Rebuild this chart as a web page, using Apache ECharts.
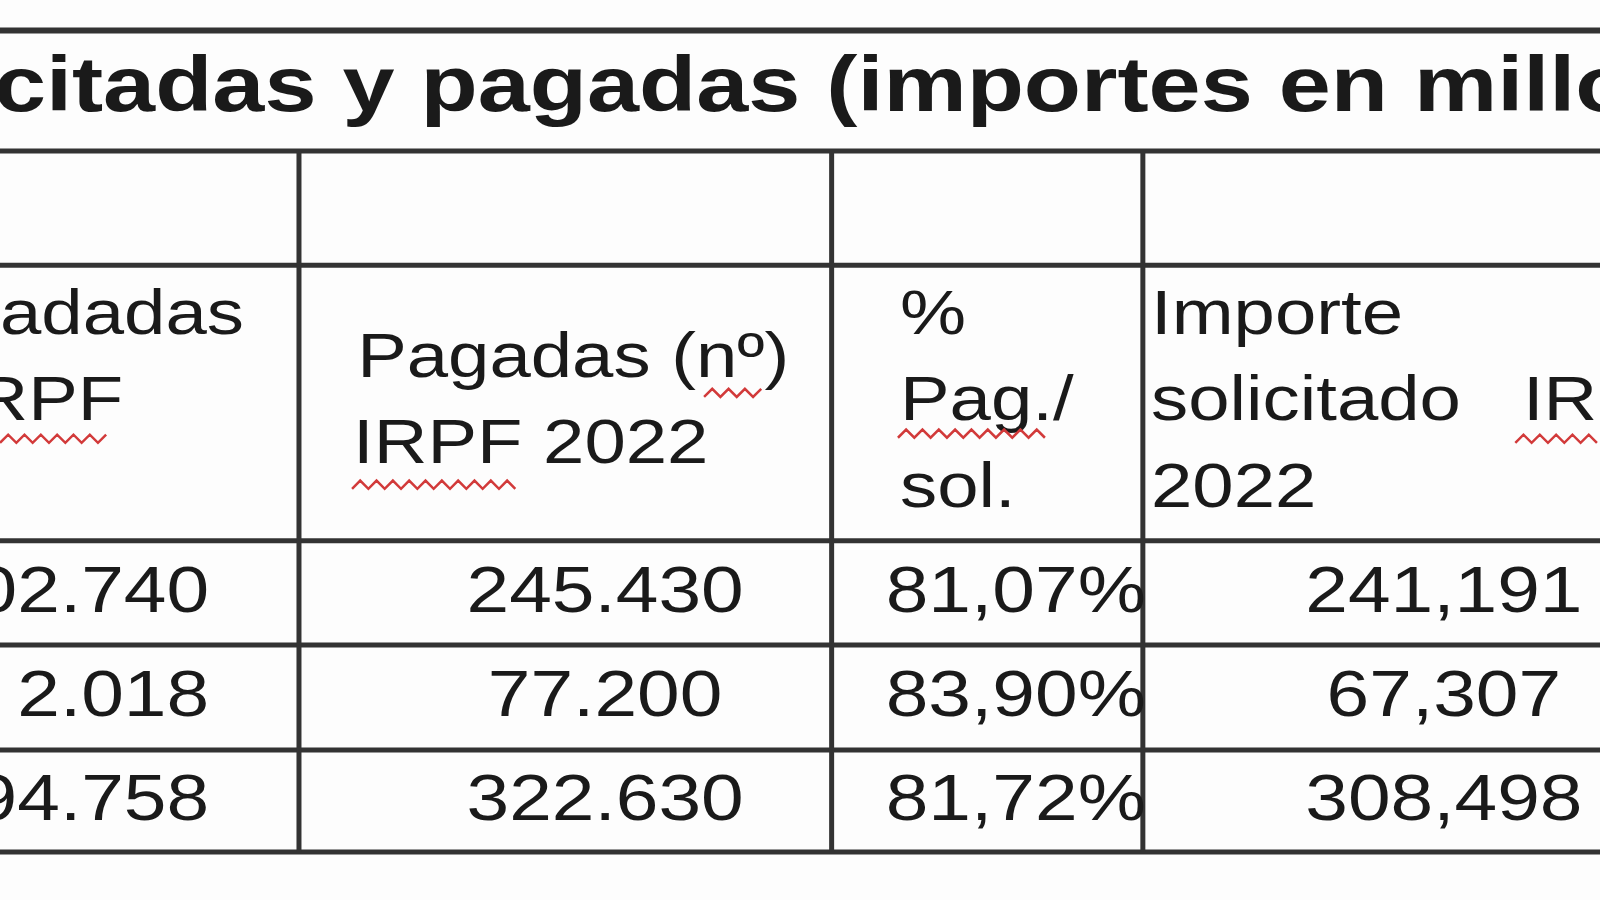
<!DOCTYPE html>
<html><head><meta charset="utf-8">
<script src="https://cdn.jsdelivr.net/npm/echarts@6/dist/echarts.min.js"></script>
<style>html,body{margin:0;padding:0;background:#fff}#main{width:1600px;height:900px}</style>
</head><body><div id="main"></div>
<script>
var title = 'citadas y pagadas (importes en millones de euros)';
var headers = [
  ['adadas', 'RPF'],
  ['Pagadas (nº)', 'IRPF 2022'],
  ['%', 'Pag./', 'sol.'],
  ['Importe', 'solicitado   IRPF', '2022']
];
var col0 = ['02.740', '2.018', '94.758'];
var col1 = ['245.430', '77.200', '322.630'];
var col2 = ['81,07%', '83,90%', '81,72%'];
var col3 = ['241,191', '67,307', '308,498'];

var K = 1600 / 1568;
var hLines = [30, 148, 260, 530, 632, 735, 835];
var vLines = [293, 815, 1120];
var rowMid = [582, 684, 786];
var font = '"Liberation Sans", Arial, sans-serif';

var myChart = echarts.init(document.getElementById('main'));
var els = [];
function txt(x, y, s, align, size, weight, sx) {
  els.push({type: 'text', x: x * K, y: y * K, scaleX: sx || 1.18, style: {text: s, fill: '#1a1a1a',
    font: (weight || 'normal') + ' ' + Math.round(size * K) + 'px ' + font,
    textAlign: align || 'left', textVerticalAlign: 'middle'}});
}
function wavy(x0, x1, y) {
  var pts = [], i = 0;
  for (var x = x0; x <= x1; x += 8) { pts.push([x * K, (y + (i % 2 ? -4 : 4)) * K]); i++; }
  els.push({type: 'polyline', shape: {points: pts}, style: {stroke: '#d23a3a', lineWidth: 2.5, fill: null}});
}
hLines.forEach(function (y, i) {
  els.push({type: 'line', shape: {x1: 0, y1: y * K, x2: 1600, y2: y * K},
    style: {stroke: '#333', lineWidth: i === 0 ? 6 : 5}});
});
vLines.forEach(function (x) {
  els.push({type: 'line', shape: {x1: x * K, y1: 148 * K, x2: x * K, y2: 835 * K}, style: {stroke: '#333', lineWidth: 5}});
});
txt(-6, 88, title, 'left', 76, 'bold', 1.2);
// header texts
txt(0, 310, headers[0][0], 'left', 62); txt(-25, 395, headers[0][1], 'left', 62);
txt(350, 352, headers[1][0], 'left', 62); txt(346, 437, headers[1][1], 'left', 62);
txt(882, 310, headers[2][0], 'left', 62); txt(882, 395, headers[2][1], 'left', 62); txt(882, 480, headers[2][2], 'left', 62);
txt(1128, 310, headers[3][0], 'left', 62); txt(1128, 395, headers[3][1], 'left', 62); txt(1128, 480, headers[3][2], 'left', 62);
wavy(0, 110, 430); wavy(690, 748, 385); wavy(345, 510, 475); wavy(880, 1030, 425); wavy(1485, 1568, 430);
// data cells
rowMid.forEach(function (y, i) {
  txt(205, y, col0[i], 'right', 64);
  txt(593, y, col1[i], 'center', 64);
  txt(868, y, col2[i], 'left', 64);
  txt(1415, y, col3[i], 'center', 64);
});
myChart.setOption({backgroundColor: '#fdfdfd', animation: false, graphic: {elements: els}});
</script></body></html>
